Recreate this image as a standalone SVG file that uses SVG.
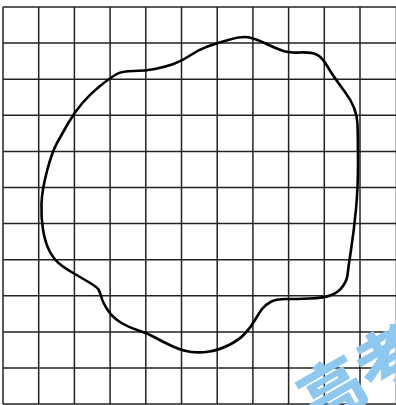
<svg xmlns="http://www.w3.org/2000/svg" width="396" height="405" viewBox="0 0 396 405">
<style>
.grid line{stroke:#222;stroke-width:1.5;}
.blob{fill:none;stroke:#000;stroke-width:2.6;stroke-linejoin:round;}
.wm{fill:#8ec8ee;font-family:"Noto Sans CJK SC","Noto Sans",sans-serif;font-weight:900;font-size:64px;}
</style>
<rect width="396" height="405" fill="#fff"/>
<g id="grid" class="grid">
<line x1="3" y1="7" x2="3" y2="404"/>
<line x1="38.7" y1="7" x2="38.7" y2="404"/>
<line x1="74.4" y1="7" x2="74.4" y2="404"/>
<line x1="110.1" y1="7" x2="110.1" y2="404"/>
<line x1="145.8" y1="7" x2="145.8" y2="404"/>
<line x1="181.5" y1="7" x2="181.5" y2="404"/>
<line x1="217.2" y1="7" x2="217.2" y2="404"/>
<line x1="252.9" y1="7" x2="252.9" y2="404"/>
<line x1="288.6" y1="7" x2="288.6" y2="404"/>
<line x1="324.3" y1="7" x2="324.3" y2="404"/>
<line x1="360" y1="7" x2="360" y2="404"/>
<line x1="395.7" y1="7" x2="395.7" y2="404" style="stroke:#bbb"/>
<line x1="3" y1="7" x2="396" y2="7"/>
<line x1="3" y1="43.1" x2="396" y2="43.1"/>
<line x1="3" y1="79.2" x2="396" y2="79.2"/>
<line x1="3" y1="115.3" x2="396" y2="115.3"/>
<line x1="3" y1="151.4" x2="396" y2="151.4"/>
<line x1="3" y1="187.5" x2="396" y2="187.5"/>
<line x1="3" y1="223.6" x2="396" y2="223.6"/>
<line x1="3" y1="259.7" x2="396" y2="259.7"/>
<line x1="3" y1="295.8" x2="396" y2="295.8"/>
<line x1="3" y1="331.9" x2="396" y2="331.9"/>
<line x1="3" y1="368" x2="396" y2="368"/>
<line x1="3" y1="404" x2="396" y2="404"/>
</g>
<g id="shape">
<path class="blob" d="M100,86 Q110,78 116,74.5 Q122,71 133.5,71 Q145,71 155,69 Q165,67 173.5,64 Q182,61 190,55.5 Q198,50 207.5,46.5 Q217,43 230,39.5 Q243,36 249.5,37.5 Q256,39 265.5,43.5 Q275,48 282,50.5 Q289,53 300,52.5 Q311,52 316.5,54.5 Q322,57 327.5,66.5 Q333,76 345,92 Q357,108 357.5,124 Q358,140 358,164 Q358,188 356,209 Q354,230 351,250 Q348,270 347.5,275 Q347,280 343,286 Q339,292 331.5,295 Q324,298 310,298.5 Q296,299 286,299 Q276,299 270.5,302 Q265,305 262,309 Q259,313 255,320 Q251,327 245,333.5 Q239,340 229,345 Q219,350 209.5,351.5 Q200,353 191.5,352 Q183,351 173,346.5 Q163,342 155,337.5 Q147,333 138.5,330.5 Q130,328 121.5,323 Q113,318 108,310.5 Q103,303 101.5,297.5 Q100,292 98.5,289.5 Q97,287 88.5,282 Q80,277 71.5,272 Q63,267 58,262.5 Q53,258 49,250 Q45,242 43,229.5 Q41,217 41.5,203.5 Q42,190 47,171 Q52,152 57,143 Q62,134 68,123.5 Q74,113 82,103.5 Q90,94 100,86 Z"/>
</g>
<g id="watermark" transform="translate(333,392) rotate(-30)">
<text class="wm" x="-32" y="22">高考</text>
</g>
</svg>
